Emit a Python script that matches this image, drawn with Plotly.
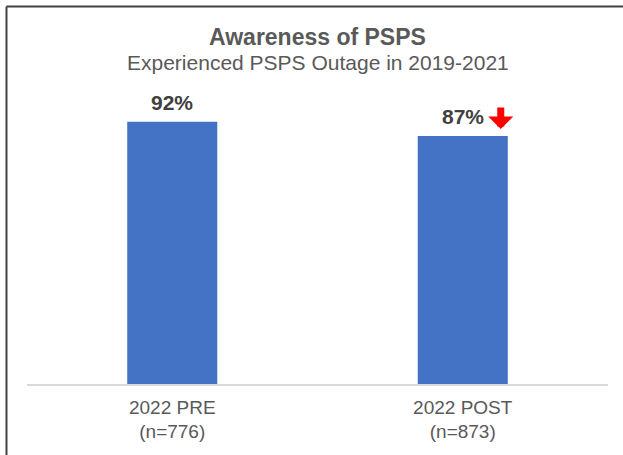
import plotly.graph_objects as go

categories = ["2022 PRE", "2022 POST"]
sample_sizes = [776, 873]
values = [92, 87]
title_text = "Awareness of PSPS"
subtitle_text = "Experienced PSPS Outage in 2019-2021"

tick_text = [f"{c}<br>(n={n})" for c, n in zip(categories, sample_sizes)]

FONT = "Liberation Sans, Arial, sans-serif"

fig = go.Figure()
fig.add_trace(go.Bar(
    x=categories, y=values,
    marker=dict(color="#4472C4", line=dict(width=0)),
    hoverinfo="skip",
))

annotations = []
for c, v in zip(categories, values):
    annotations.append(dict(
        x=c, y=v, xref="x", yref="y", text=f"<b>{v}%</b>", showarrow=False,
        yanchor="bottom", yshift=6, font=dict(family=FONT, size=21, color="#404040"),
    ))
# decrease indicator next to POST label
annotations.append(dict(
    x=categories[1], y=values[1], xref="x", yref="y", text="", showarrow=True,
    ax=0, ay=-23, axref="pixel", ayref="pixel", xshift=38, yshift=7,
    arrowhead=1, arrowwidth=7, arrowsize=0.6, arrowcolor="#FF0000",
))
annotations.append(dict(
    x=0.5, y=1.2175, xref="paper", yref="paper", text=f"<b>{title_text}</b>",
    showarrow=False, yanchor="middle", font=dict(family=FONT, size=23, color="#595959"),
))
annotations.append(dict(
    x=0.5, y=1.127, xref="paper", yref="paper", text=subtitle_text,
    showarrow=False, yanchor="middle", font=dict(family=FONT, size=21, color="#595959"),
))

border = dict(color="#404040", width=2)
fig.update_layout(
    width=623, height=455, autosize=False,
    margin=dict(l=27, r=15, t=99, b=71),
    paper_bgcolor="white", plot_bgcolor="white",
    showlegend=False,
    bargap=0.69,
    annotations=annotations,
    shapes=[
        dict(type="line", xref="paper", yref="paper", x0=-0.0353, x1=-0.0353,
             y0=-0.3, y1=1.3246, line=border, layer="above"),
        dict(type="line", xref="paper", yref="paper", x0=-0.0353, x1=1.0,
             y0=1.3246, y1=1.3246, line=border, layer="above"),
        dict(type="line", xref="paper", yref="paper", x0=1.0, x1=1.0258,
             y0=1.3246, y1=1.3246, line=border, layer="above"),
    ],
    xaxis=dict(
        tickvals=categories, ticktext=tick_text,
        showline=True, linecolor="#D9D9D9", linewidth=1.5,
        showgrid=False, ticks="", zeroline=False,
        ticklabelstandoff=5,
        tickfont=dict(family=FONT, size=19, color="#595959"),
        fixedrange=True,
    ),
    yaxis=dict(range=[0, 100], visible=False, showgrid=False, zeroline=False, fixedrange=True),
)

fig.write_html(
    "out.html",
    config={"displayModeBar": False},
    post_script="document.body.style.margin='0';document.body.style.overflow='hidden';",
)
